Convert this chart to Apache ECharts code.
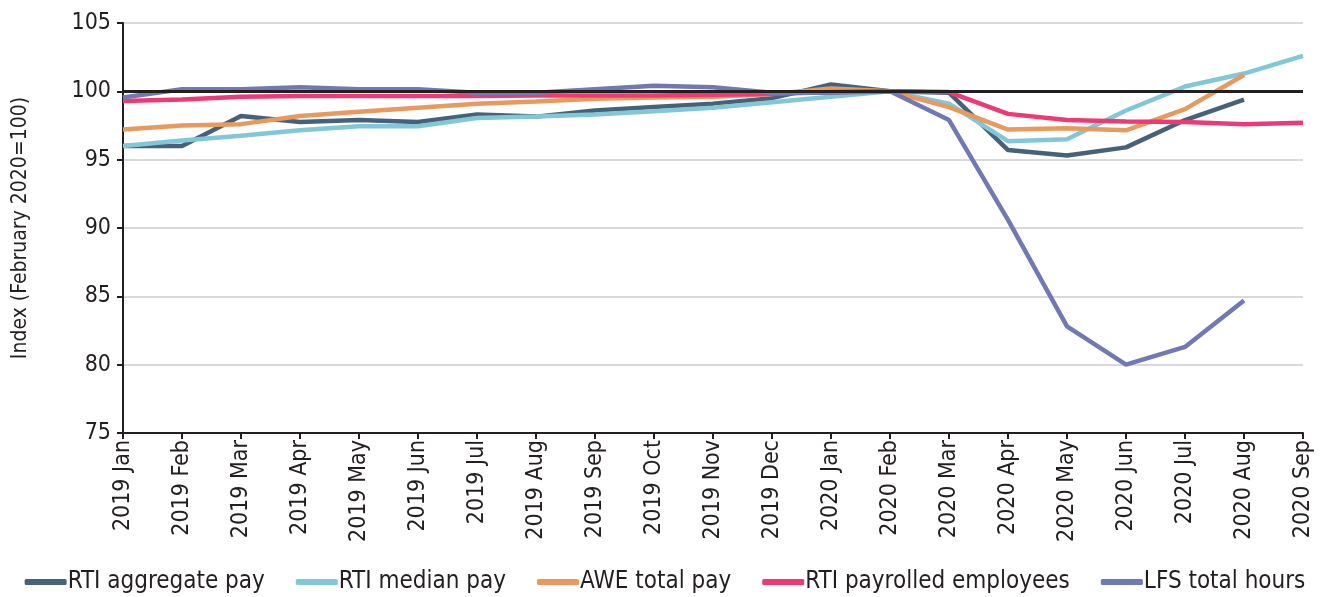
<!DOCTYPE html>
<html>
<head>
<meta charset="utf-8">
<script src="https://cdn.jsdelivr.net/npm/echarts@6/dist/echarts.min.js"></script>
<style>
html,body{margin:0;padding:0;background:#fff;}
#main{width:1330px;height:597px;}
</style>
</head>
<body>
<div id="main"></div>
<script>
var months = ['2019 Jan','2019 Feb','2019 Mar','2019 Apr','2019 May','2019 Jun','2019 Jul','2019 Aug','2019 Sep','2019 Oct','2019 Nov','2019 Dec',
              '2020 Jan','2020 Feb','2020 Mar','2020 Apr','2020 May','2020 Jun','2020 Jul','2020 Aug','2020 Sep'];
var rtiAggregate = [96.0, 96.0, 98.2, 97.75, 97.9, 97.75, 98.3, 98.15, 98.6, 98.85, 99.1, 99.5, 100.5, 100.0, 99.9, 95.7, 95.3, 95.9, 97.9, 99.4, null];
var rtiMedian    = [96.0, 96.4, 96.75, 97.15, 97.45, 97.45, 98.05, 98.15, 98.3, 98.55, 98.8, 99.2, 99.6, 100.0, 99.1, 96.35, 96.5, 98.6, 100.35, 101.3, 102.6];
var aweTotal     = [97.2, 97.5, 97.6, 98.2, 98.5, 98.8, 99.1, 99.25, 99.45, 99.55, 99.6, 99.8, 100.2, 100.0, 98.85, 97.2, 97.3, 97.15, 98.7, 101.2, null];
var rtiPayrolled = [99.3, 99.4, 99.6, 99.65, 99.65, 99.65, 99.65, 99.7, 99.7, 99.7, 99.75, 99.8, 99.95, 100.0, 99.95, 98.35, 97.9, 97.8, 97.75, 97.6, 97.7];
var lfsHours     = [99.55, 100.15, 100.15, 100.3, 100.15, 100.15, 99.9, 99.9, 100.15, 100.4, 100.3, 99.9, 99.9, 100.0, 97.9, 90.6, 82.8, 80.0, 81.3, 84.7, null];
var yTicks = [75, 80, 85, 90, 95, 100, 105];

var font = '"Liberation Sans Narrow", "DejaVu Sans Condensed", "Roboto", sans-serif';
var myChart = echarts.init(document.getElementById('main'));

function line(name, data, color) {
    return {
        name: name,
        type: 'line',
        data: data,
        symbol: 'none',
        connectNulls: false,
        lineStyle: {width: 4.5, color: color},
        itemStyle: {color: color}
    };
}

var series = [
    line('RTI aggregate pay', rtiAggregate, '#46627a'),
    line('RTI median pay', rtiMedian, '#82c7d7'),
    line('AWE total pay', aweTotal, '#e8995e'),
    line('RTI payrolled employees', rtiPayrolled, '#ee3a74'),
    line('LFS total hours', lfsHours, '#7179b2')
];
series[4].markLine = {
    silent: true,
    symbol: 'none',
    label: {show: false},
    lineStyle: {color: '#231f20', width: 3, type: 'solid'},
    data: [{yAxis: 100}]
};

option = {
    animation: false,
    textStyle: {fontFamily: font},
    grid: {left: 123, right: 27, top: 23, bottom: 164},
    legend: {
        bottom: -2,
        left: 'center',
        itemWidth: 42,
        itemHeight: 6,
        itemGap: 31,
        icon: 'roundRect',
        textStyle: {fontFamily: font, fontSize: 24, color: '#231f20', padding: [0, 0, 0, -4]},
        data: ['RTI aggregate pay', 'RTI median pay', 'AWE total pay', 'RTI payrolled employees', 'LFS total hours']
    },
    xAxis: {
        type: 'category',
        boundaryGap: false,
        data: months,
        axisLine: {lineStyle: {color: '#231f20', width: 2}},
        axisTick: {show: true, length: 6, alignWithLabel: true, lineStyle: {color: '#231f20', width: 2}},
        axisLabel: {rotate: 90, interval: 0, fontFamily: font, fontSize: 23, color: '#231f20', margin: 7},
        splitLine: {show: false}
    },
    yAxis: {
        type: 'value',
        min: yTicks[0],
        max: yTicks[yTicks.length - 1],
        interval: 5,
        name: 'Index (February 2020=100)',
        nameLocation: 'middle',
        nameGap: 92,
        nameTextStyle: {fontFamily: font, fontSize: 21, color: '#231f20'},
        axisLine: {show: true, lineStyle: {color: '#231f20', width: 2}},
        axisTick: {show: true, length: 6, lineStyle: {color: '#231f20', width: 2}},
        axisLabel: {fontFamily: font, fontSize: 23, color: '#231f20', margin: 12},
        splitLine: {show: true, lineStyle: {color: '#d9d9d9', width: 2}}
    },
    series: series
};

myChart.setOption(option);
</script>
</body>
</html>
